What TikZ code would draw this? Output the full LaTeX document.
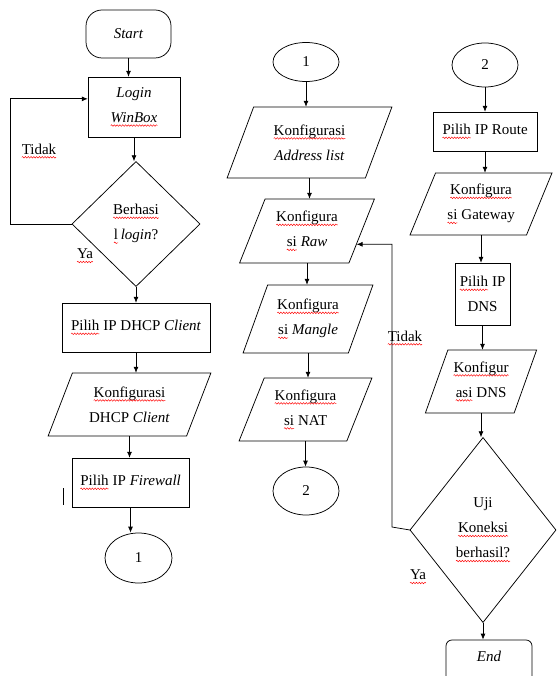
\documentclass[tikz,border=0pt]{standalone}
\usepackage{fontspec}
\setmainfont{Liberation Serif}
\usetikzlibrary{positioning}
\usetikzlibrary{shapes.geometric,arrows.meta}
\usetikzlibrary{decorations.pathmorphing}

% red spell-check wave under a word
\newcommand{\spl}[1]{\tikz[baseline=(w.base)]{\node[shape=rectangle, draw=none, fill=none, minimum width=0pt, minimum height=0pt, inner sep=0pt, outer sep=0pt, rounded corners=0pt] (w) {#1};
	\draw[red, line width=0.45pt, sharp corners, decorate, decoration={snake, amplitude=0.8pt, segment length=2.8pt}] ([yshift=-3.2pt]w.base west) -- ([yshift=-3.2pt]w.base east);}}

\tikzset{
	box/.style={draw, rectangle, align=center, inner sep=1pt},
	io/.style={draw, trapezium, trapezium left angle=65, trapezium right angle=115, trapezium stretches=true, align=center, inner sep=1pt},
	dec/.style={draw, diamond, align=center, inner sep=0pt},
	conn/.style={draw, ellipse, inner sep=0pt},
	term/.style={draw, rectangle, align=center, inner sep=1pt},
	arr/.style={-{Latex[length=6pt,width=5pt]}},
}

\begin{document}
\begin{tikzpicture}[x=1pt, y=-1pt, line width=0.75pt, font=\fontsize{15}{25}\selectfont]
		\useasboundingbox (0,0) rectangle (556,676);
		\clip (0,0) rectangle (556,676);
		% kolom kiri
		\node[term, rounded corners=16pt, minimum width=85, minimum height=48] (start) at (128.5,34) {\textit{Start}};
		\node[box, minimum width=92, minimum height=60] (login) at (134,107) {\textit{Login}\\\textit{\spl{WinBox}}};
		\node[dec, minimum width=128, minimum height=125] (cek1) at (136,224) {\spl{Berhasi}\\\spl{l}\,\textit{login}?};
		\node[box, minimum width=148, minimum height=49] (dhcp) at (136,327.5) {\spl{Pilih} IP DHCP \textit{Client}};
		\node[io, minimum width=163, minimum height=63] (kdhcp) at (129.5,404.5) {\spl{Konfigurasi}\\DHCP \textit{Client}};
		\node[box, minimum width=117, minimum height=49] (fw) at (130.5,482.5) {\spl{Pilih} IP \textit{Firewall}};
		\node[conn, minimum width=67, minimum height=50] (c1a) at (138.5,558) {1};
		\node (tidak1) at (39,151) {\spl{Tidak}};
		\node (ya1) at (85,256) {\spl{Ya}};
		\draw (63,488) -- (63,505);
		% kolom tengah
		\node[conn, minimum width=66, minimum height=39] (c1b) at (306,62) {1};
		\node[io, minimum width=165, minimum height=71] (addr) at (309.5,142.5) {\spl{Konfigurasi}\\\textit{Address list}};
		\node[io, minimum width=135, minimum height=64] (raw) at (307,231) {\spl{Konfigura}\\\spl{si} \textit{Raw}};
		\node[io, minimum width=130, minimum height=68] (mangle) at (308,319) {\spl{Konfigura}\\\spl{si} \textit{Mangle}};
		\node[io, minimum width=133, minimum height=63] (nat) at (305.5,409.5) {\spl{Konfigura}\\\spl{si} NAT};
		\node[conn, minimum width=66, minimum height=48] (c2a) at (306,491) {2};
		% kolom kanan
		\node[conn, minimum width=66, minimum height=44] (c2b) at (485,65) {2};
		\node[box, minimum width=104, minimum height=39] (route) at (485,131.5) {\spl{Pilih} IP Route};
		\node[io, minimum width=142, minimum height=62] (gw) at (481,204) {\spl{Konfigura}\\\spl{si} Gateway};
		\node[box, minimum width=55, minimum height=62] (dns) at (482.5,294) {\spl{Pilih} IP\\DNS};
		\node[io, minimum width=112, minimum height=63] (kdns) at (481,381.5) {\spl{Konfigur}\\\spl{asi} DNS};
		\node[dec, minimum width=146, minimum height=185] (cek2) at (483,530) {Uji\\\spl{Koneksi}\\\spl{berhasil?}};
		\node[term, rounded corners=6pt, minimum width=86, minimum height=50] (end) at (489,665) {\textit{End}\\[-8pt]\mbox{}};
		\node (tidak2) at (405,338) {\spl{Tidak}};
		\node (ya2) at (418,577) {\spl{Ya}};
		\coordinate (kiri) at (10,224);
		\coordinate (balik) at (392,527);
		% panah
		\draw[arr] (start.south) -- (start.south |- login.north);
		\draw[arr] (login.south) -- (login.south |- cek1.north);
		\draw[arr] (cek1.south) -- (cek1.south |- dhcp.north);
		\draw[arr] (dhcp.south) -- (dhcp.south |- kdhcp.north);
		\draw[arr] (kdhcp.south) -- (kdhcp.south |- fw.north);
		\draw[arr] (fw.south) -- (fw.south |- c1a.north);
		\draw[arr] (cek1.west) -- (kiri) |- (login.170);
		\draw[arr] (c1b.south) -- (c1b.south |- addr.north);
		\draw[arr] (addr.south) -- (addr.south |- raw.north);
		\draw[arr] (raw.south) -- (raw.south |- mangle.north);
		\draw[arr] (mangle.south) -- (mangle.south |- nat.north);
		\draw[arr] (nat.south) -- (nat.south |- c2a.north);
		\draw[arr] (c2b.south) -- (c2b.south |- route.north);
		\draw[arr] (route.south) -- (route.south |- gw.north);
		\draw[arr] (gw.south) -- (gw.south |- dns.north);
		\draw[arr] (dns.south) -- (dns.south |- kdns.north);
		\draw[arr] (kdns.south) -- (kdns.south |- cek2.north);
		\draw[arr] (cek2.south) -- (cek2.south |- end.north);
		\draw[arr] (cek2.west) -- (balik) |- (raw.-15);
	\end{tikzpicture}
\end{document}
